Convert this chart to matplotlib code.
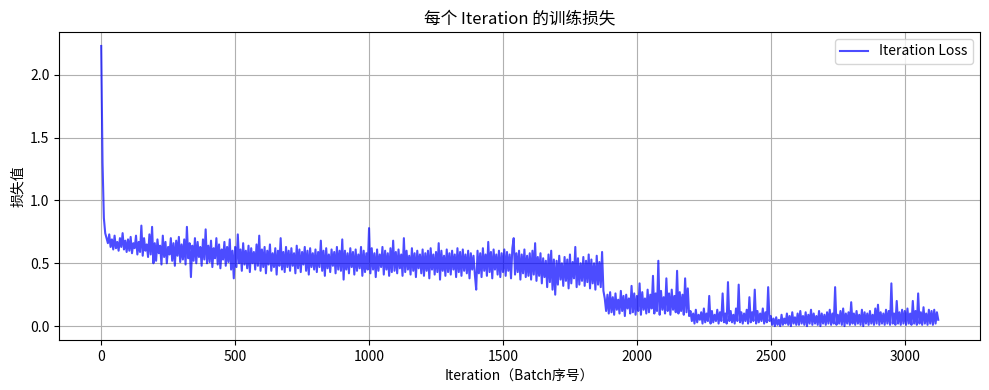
import numpy as np
import matplotlib
matplotlib.use('Agg')
import matplotlib.pyplot as plt

plt.rcParams['font.family'] = ['Noto Sans CJK SC', 'DejaVu Sans']
plt.rcParams['axes.unicode_minus'] = False

# loss, one value every 5 iterations (rows of 100)
step = 5
loss = [
    2.23, 1.30, 0.86, 0.74, 0.70, 0.66, 0.73, 0.63, 0.69, 0.61, 0.72, 0.62, 0.67, 0.60, 0.70, 0.63, 0.74, 0.61, 0.68, 0.59,
    0.69, 0.60, 0.71, 0.58, 0.66, 0.62, 0.72, 0.57, 0.67, 0.59, 0.80, 0.56, 0.70, 0.60, 0.65, 0.55, 0.73, 0.57, 0.79, 0.50,
    0.66, 0.52, 0.69, 0.58, 0.64, 0.49, 0.72, 0.55, 0.67, 0.50, 0.63, 0.57, 0.70, 0.52, 0.66, 0.48, 0.68, 0.56, 0.71, 0.51,
    0.65, 0.53, 0.69, 0.49, 0.79, 0.54, 0.66, 0.39, 0.64, 0.52, 0.70, 0.50, 0.67, 0.55, 0.63, 0.48, 0.69, 0.53, 0.77, 0.50,
    0.64, 0.51, 0.68, 0.47, 0.62, 0.54, 0.70, 0.49, 0.65, 0.46, 0.61, 0.53, 0.67, 0.48, 0.63, 0.51, 0.69, 0.45, 0.60, 0.38,
    0.63, 0.47, 0.73, 0.50, 0.61, 0.44, 0.66, 0.49, 0.60, 0.46, 0.64, 0.43, 0.62, 0.50, 0.59, 0.45, 0.65, 0.48, 0.72, 0.44,
    0.61, 0.47, 0.63, 0.42, 0.60, 0.49, 0.65, 0.44, 0.58, 0.47, 0.62, 0.41, 0.60, 0.48, 0.70, 0.45, 0.59, 0.43, 0.63, 0.47,
    0.60, 0.44, 0.62, 0.48, 0.58, 0.42, 0.64, 0.46, 0.61, 0.43, 0.59, 0.49, 0.63, 0.44, 0.60, 0.41, 0.62, 0.47, 0.58, 0.45,
    0.61, 0.43, 0.59, 0.47, 0.68, 0.44, 0.60, 0.40, 0.62, 0.46, 0.57, 0.43, 0.61, 0.48, 0.59, 0.42, 0.63, 0.45, 0.60, 0.44,
    0.69, 0.37, 0.60, 0.45, 0.58, 0.42, 0.62, 0.47, 0.59, 0.41, 0.61, 0.44, 0.57, 0.46, 0.63, 0.40, 0.60, 0.43, 0.58, 0.45,
    0.78, 0.42, 0.62, 0.45, 0.58, 0.39, 0.61, 0.44, 0.57, 0.47, 0.63, 0.41, 0.60, 0.45, 0.58, 0.40, 0.62, 0.43, 0.68, 0.44,
    0.59, 0.42, 0.61, 0.46, 0.57, 0.40, 0.70, 0.43, 0.60, 0.45, 0.56, 0.41, 0.62, 0.44, 0.58, 0.39, 0.60, 0.46, 0.57, 0.42,
    0.61, 0.40, 0.58, 0.44, 0.60, 0.38, 0.62, 0.45, 0.57, 0.41, 0.59, 0.43, 0.66, 0.37, 0.60, 0.44, 0.56, 0.40, 0.61, 0.43,
    0.58, 0.41, 0.60, 0.45, 0.57, 0.39, 0.62, 0.43, 0.59, 0.40, 0.61, 0.44, 0.57, 0.42, 0.60, 0.38, 0.58, 0.45, 0.56, 0.41,
    0.29, 0.60, 0.42, 0.58, 0.39, 0.62, 0.44, 0.57, 0.40, 0.67, 0.43, 0.59, 0.38, 0.61, 0.45, 0.57, 0.41, 0.60, 0.39, 0.58,
    0.43, 0.61, 0.40, 0.59, 0.44, 0.57, 0.38, 0.62, 0.70, 0.41, 0.58, 0.43, 0.60, 0.37, 0.57, 0.42, 0.61, 0.39, 0.56, 0.40,
    0.58, 0.37, 0.60, 0.41, 0.66, 0.36, 0.55, 0.40, 0.58, 0.34, 0.54, 0.39, 0.52, 0.31, 0.57, 0.35, 0.60, 0.29, 0.53, 0.25,
    0.52, 0.33, 0.56, 0.37, 0.50, 0.32, 0.55, 0.36, 0.53, 0.30, 0.57, 0.34, 0.51, 0.38, 0.63, 0.31, 0.54, 0.33, 0.50, 0.36,
    0.55, 0.32, 0.52, 0.35, 0.57, 0.30, 0.53, 0.34, 0.50, 0.29, 0.56, 0.33, 0.51, 0.31, 0.59, 0.28, 0.22, 0.12, 0.25, 0.10,
    0.27, 0.11, 0.23, 0.09, 0.26, 0.13, 0.21, 0.10, 0.28, 0.12, 0.24, 0.08, 0.25, 0.14, 0.22, 0.10, 0.32, 0.11, 0.26, 0.09,
    0.24, 0.12, 0.34, 0.09, 0.27, 0.13, 0.22, 0.10, 0.29, 0.11, 0.25, 0.14, 0.40, 0.10, 0.26, 0.12, 0.52, 0.09, 0.28, 0.13,
    0.23, 0.10, 0.38, 0.12, 0.26, 0.09, 0.29, 0.13, 0.24, 0.11, 0.44, 0.10, 0.27, 0.12, 0.25, 0.09, 0.38, 0.11, 0.30, 0.08,
    0.12, 0.04, 0.10, 0.02, 0.13, 0.03, 0.09, 0.05, 0.11, 0.02, 0.14, 0.03, 0.10, 0.04, 0.24, 0.02, 0.12, 0.03, 0.09, 0.04,
    0.13, 0.02, 0.11, 0.04, 0.26, 0.03, 0.10, 0.02, 0.35, 0.04, 0.12, 0.03, 0.09, 0.02, 0.14, 0.04, 0.33, 0.03, 0.11, 0.02,
    0.10, 0.04, 0.13, 0.02, 0.23, 0.03, 0.11, 0.04, 0.29, 0.02, 0.12, 0.03, 0.10, 0.04, 0.14, 0.02, 0.11, 0.03, 0.31, 0.04,
    0.08, 0.01, 0.06, 0.00, 0.07, 0.01, 0.05, 0.00, 0.09, 0.01, 0.06, 0.02, 0.10, 0.01, 0.08, 0.00, 0.11, 0.02, 0.07, 0.01,
    0.10, 0.01, 0.12, 0.02, 0.08, 0.01, 0.11, 0.00, 0.09, 0.02, 0.13, 0.01, 0.10, 0.02, 0.08, 0.01, 0.12, 0.00, 0.10, 0.02,
    0.09, 0.01, 0.11, 0.02, 0.13, 0.01, 0.10, 0.02, 0.31, 0.01, 0.09, 0.02, 0.12, 0.01, 0.14, 0.00, 0.10, 0.02, 0.11, 0.01,
    0.19, 0.02, 0.10, 0.01, 0.12, 0.02, 0.09, 0.01, 0.13, 0.00, 0.11, 0.02, 0.10, 0.01, 0.12, 0.02, 0.09, 0.01, 0.14, 0.02,
    0.17, 0.01, 0.11, 0.02, 0.10, 0.01, 0.13, 0.02, 0.12, 0.01, 0.34, 0.02, 0.10, 0.01, 0.20, 0.02, 0.11, 0.01, 0.13, 0.02,
    0.12, 0.01, 0.14, 0.02, 0.10, 0.01, 0.20, 0.02, 0.12, 0.01, 0.26, 0.02, 0.11, 0.01, 0.15, 0.02, 0.10, 0.01, 0.13, 0.02,
    0.12, 0.01, 0.13, 0.02, 0.11, 0.05,
]
iterations = np.arange(len(loss)) * step

fig, ax = plt.subplots(figsize=(9.89, 3.9), dpi=100)
ax.plot(iterations, loss, color='blue', alpha=0.7, label='Iteration Loss')
ax.set_title('每个 Iteration 的训练损失')
ax.set_xlabel('Iteration（Batch序号）')
ax.set_ylabel('损失值')
ax.legend(loc='upper right')
ax.grid(True)
fig.subplots_adjust(left=0.060, right=0.991, top=0.918, bottom=0.128)
fig.savefig('out.png')
